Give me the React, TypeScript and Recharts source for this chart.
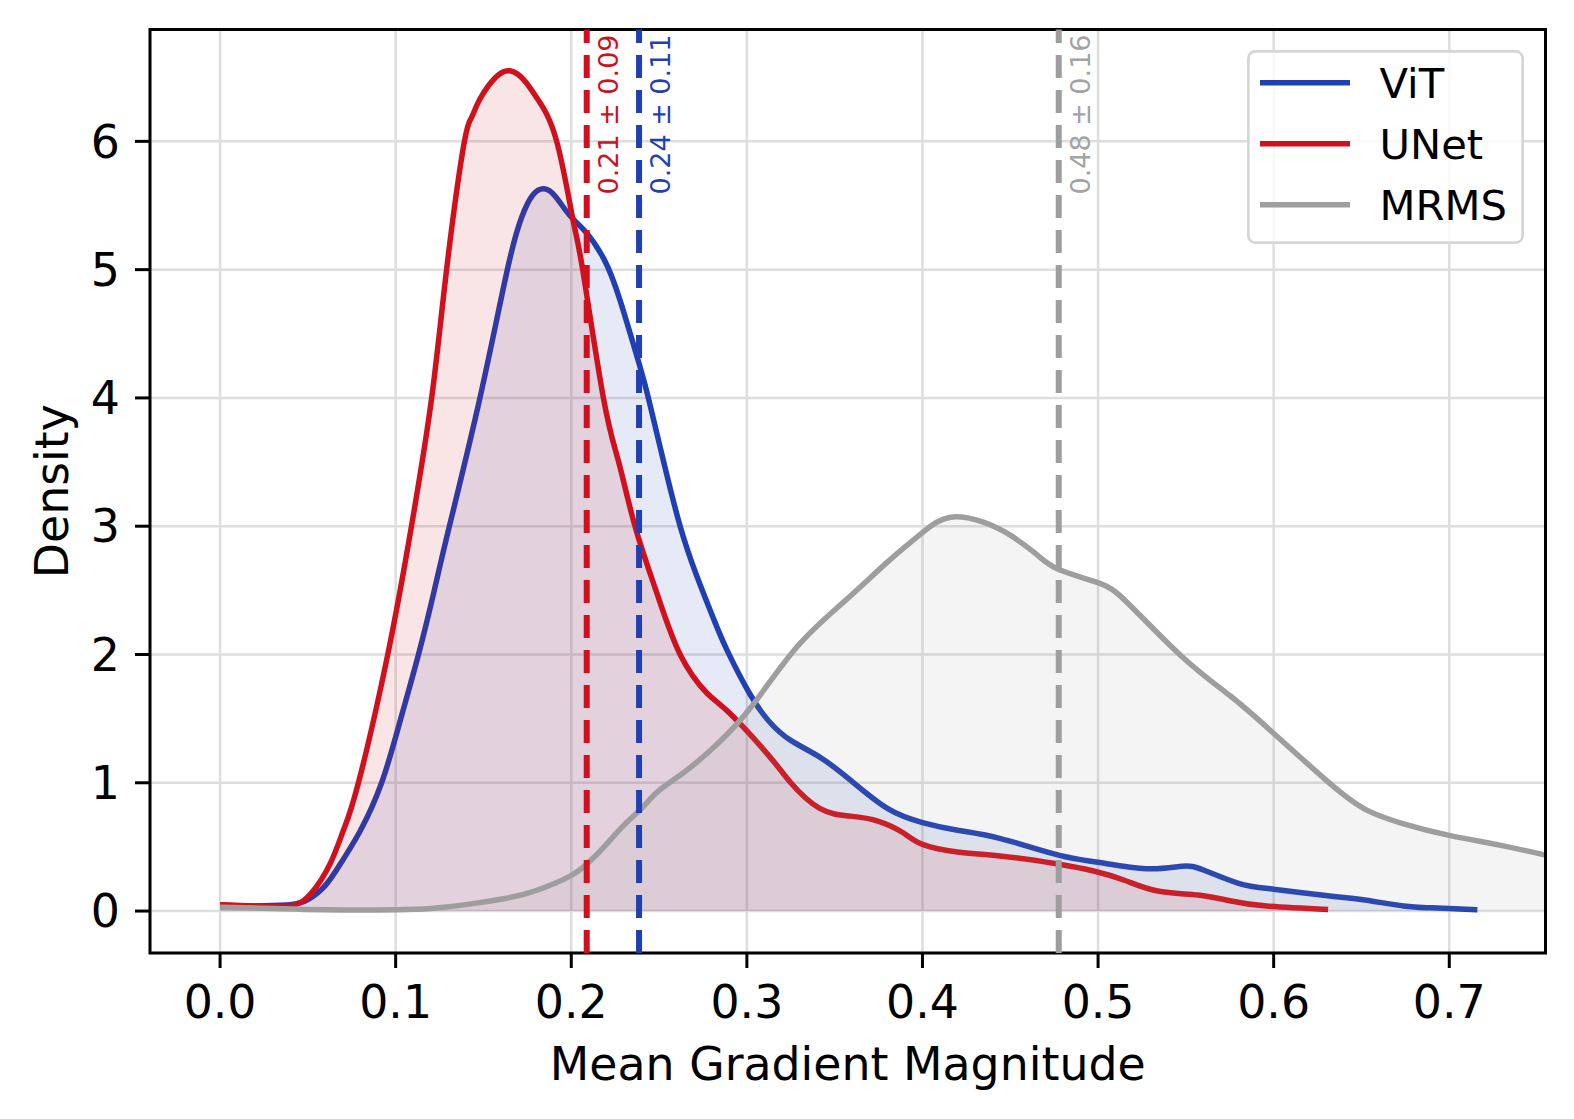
import React from "react";
import {
  Area,
  CartesianGrid,
  ComposedChart,
  Legend,
  ReferenceArea,
  ReferenceLine,
  XAxis,
  YAxis,
} from "recharts";

// KDE curves (x = gradient magnitude, y = density)
const vitGrid = [
  0, 0.02, 0.04, 0.05, 0.06, 0.07, 0.08, 0.092, 0.1025, 0.113, 0.122, 0.1306,
  0.148, 0.1636, 0.1718, 0.178, 0.1845, 0.191, 0.1993, 0.2085, 0.2187, 0.2278, 0.2392,
  0.2439, 0.253, 0.262, 0.271, 0.281, 0.2885, 0.3018, 0.3132, 0.325, 0.3415, 0.359,
  0.38, 0.4, 0.42, 0.444, 0.4776, 0.5, 0.5276, 0.548, 0.56, 0.58, 0.6, 0.632, 0.65,
  0.674, 0.69, 0.716,
];
const vitDensity = [
  0.03, 0.04, 0.05, 0.09, 0.2, 0.4, 0.63, 1.0, 1.48, 2.0, 2.5, 3.0, 4.0, 5.0, 5.41,
  5.58, 5.63, 5.57, 5.42, 5.29, 5.08, 4.76, 4.24, 4.0, 3.48, 3.0, 2.63, 2.28, 2.04, 1.69,
  1.47, 1.33, 1.2, 1.02, 0.8, 0.69, 0.63, 0.567, 0.436, 0.38, 0.33, 0.35, 0.32, 0.216,
  0.17, 0.117, 0.09, 0.039, 0.025, 0.01,
];

const unetGrid = [
  0, 0.02, 0.04, 0.052, 0.0627, 0.07, 0.0788, 0.0955, 0.109, 0.1205, 0.129, 0.1385,
  0.143, 0.148, 0.157, 0.165, 0.173, 0.1813, 0.1917, 0.2008, 0.2065, 0.2183, 0.227,
  0.2363, 0.2487, 0.262, 0.2772, 0.2904, 0.3132, 0.325, 0.3415, 0.359, 0.375, 0.389,
  0.4, 0.42, 0.444, 0.4755, 0.498, 0.515, 0.534, 0.557, 0.575, 0.596, 0.631,
];
const unetDensity = [
  0.05, 0.04, 0.04, 0.14, 0.37, 0.62, 1.0, 2.0, 3.0, 4.0, 5.0, 5.95, 6.18, 6.33, 6.5,
  6.55, 6.48, 6.32, 6.0, 5.4, 5.0, 4.0, 3.5, 3.0, 2.48, 2.0, 1.7, 1.54, 1.2, 1.0, 0.8,
  0.74, 0.7, 0.61, 0.52, 0.46, 0.43, 0.37, 0.31, 0.24, 0.156, 0.125, 0.08, 0.039, 0.013,
];

const mrmsGrid = [
  0, 0.03, 0.06, 0.1, 0.12, 0.14, 0.163, 0.18, 0.199, 0.21, 0.22, 0.23, 0.24, 0.25,
  0.265, 0.283, 0.303, 0.3286, 0.356, 0.38, 0.4, 0.416, 0.435, 0.45, 0.465, 0.478, 0.5,
  0.517, 0.548, 0.575, 0.598, 0.632, 0.653, 0.674, 0.7, 0.73, 0.76,
];
const mrmsDensity = [
  0.03, 0.02, 0.01, 0.01, 0.02, 0.05, 0.1, 0.16, 0.27, 0.38, 0.52, 0.67, 0.8, 0.94,
  1.09, 1.3, 1.6, 2.06, 2.42, 2.72, 2.95, 3.07, 3.03, 2.93, 2.78, 2.66, 2.56, 2.4,
  1.98, 1.68, 1.41, 0.995, 0.787, 0.68, 0.59, 0.51, 0.42,
];

const seriesNames = ["ViT", "UNet", "MRMS"];
const seriesColors = ["#1f3fb2", "#d0111d", "#9e9e9e"];
const labelColors = ["#1f3fb2", "#d0111d", "#a3a3a3"];
const meanValues = [0.2386, 0.2088, 0.4776];
const meanLabels = ["0.24 ± 0.11", "0.21 ± 0.09", "0.48 ± 0.16"];

const xTicks = [0, 0.1, 0.2, 0.3, 0.4, 0.5, 0.6, 0.7];
const yTicks = [0, 1, 2, 3, 4, 5, 6];
const X_DOMAIN: [number, number] = [-0.0399, 0.7548];
const Y_DOMAIN: [number, number] = [-0.327, 6.872];

const FONT = "DejaVu Sans";

const toPoints = (grid: number[], density: number[]) =>
  grid.map((x, i) => ({ x, y: density[i] }));

const seriesData = [
  toPoints(vitGrid, vitDensity),
  toPoints(unetGrid, unetDensity),
  toPoints(mrmsGrid, mrmsDensity),
];

function MeanLabel(props: any) {
  const { viewBox, text, color } = props;
  const x = (viewBox?.x ?? 0) + 31;
  const y = (viewBox?.y ?? 29.5) + 5;
  return (
    <text
      x={x}
      y={y}
      transform={`rotate(-90 ${x} ${y})`}
      textAnchor="end"
      fill={color}
      fontSize={27}
      fontFamily={FONT}
    >
      {text}
    </text>
  );
}

function LegendBox() {
  return (
    <svg width={277} height={194} style={{ display: "block" }}>
      <rect
        x={1.35}
        y={1.35}
        width={274.3}
        height={191.3}
        rx={7}
        fill="rgba(255,255,255,0.8)"
        stroke="#d6d6d6"
        strokeWidth={2.7}
      />
      {seriesNames.map((name, i) => (
        <g key={name}>
          <line
            x1={13}
            x2={103}
            y1={32.7 + i * 61}
            y2={32.7 + i * 61}
            stroke={seriesColors[i]}
            strokeWidth={5.5}
          />
          <text x={132.5} y={48.3 + i * 61} fontSize={41.7} fontFamily={FONT} fill="#000">
            {name}
          </text>
        </g>
      ))}
    </svg>
  );
}

export default function App() {
  return (
    <div
      style={{
        position: "absolute",
        left: 0,
        top: 0,
        width: 1574,
        height: 1119,
        background: "#fff",
        fontFamily: FONT,
      }}
    >
      <ComposedChart
        width={1574}
        height={1119}
        margin={{ top: 29.5, right: 28.5, bottom: 36, left: 70 }}
      >
        <CartesianGrid stroke="#dedede" strokeWidth={2.5} />
        <XAxis
          dataKey="x"
          type="number"
          domain={X_DOMAIN}
          ticks={xTicks}
          allowDataOverflow
          height={130}
          axisLine={false}
          tickSize={15}
          tickMargin={17}
          tickLine={{ stroke: "#000", strokeWidth: 3 }}
          tick={{ fill: "#000", fontSize: 45.8, fontFamily: FONT }}
          tickFormatter={(v) => Number(v).toFixed(1)}
          label={(p: any) => (
            <text
              x={p.viewBox.x + p.viewBox.width / 2}
              y={p.viewBox.y + 127}
              textAnchor="middle"
              fontSize={45.8}
              fontFamily={FONT}
              fill="#000"
            >
              Mean Gradient Magnitude
            </text>
          )}
        />
        <YAxis
          type="number"
          domain={Y_DOMAIN}
          ticks={yTicks}
          allowDataOverflow
          width={80}
          axisLine={false}
          tickSize={15}
          tickMargin={15}
          tickLine={{ stroke: "#000", strokeWidth: 3 }}
          tick={{ fill: "#000", fontSize: 45.8, fontFamily: FONT }}
          label={(p: any) => {
            const x = p.viewBox.x - 2;
            const y = p.viewBox.y + p.viewBox.height / 2;
            return (
              <text
                x={x}
                y={y}
                transform={`rotate(-90 ${x} ${y})`}
                textAnchor="middle"
                fontSize={45.8}
                fontFamily={FONT}
                fill="#000"
              >
                Density
              </text>
            );
          }}
        />
        {seriesNames.map((name, i) => (
          <Area
            key={name}
            name={name}
            data={seriesData[i]}
            dataKey="y"
            type="natural"
            baseValue={0}
            stroke={seriesColors[i]}
            strokeWidth={5.5}
            fill={seriesColors[i]}
            fillOpacity={0.11}
            dot={false}
            activeDot={false}
            isAnimationActive={false}
          />
        ))}
        {seriesNames.map((name, i) => (
          <ReferenceLine
            key={`mean-${name}`}
            x={meanValues[i]}
            stroke={seriesColors[i]}
            strokeWidth={6}
            strokeDasharray="23 12"
            label={(p: any) => (
              <MeanLabel viewBox={p.viewBox} text={meanLabels[i]} color={labelColors[i]} />
            )}
          />
        ))}
        <ReferenceArea
          x1={X_DOMAIN[0]}
          x2={X_DOMAIN[1]}
          y1={Y_DOMAIN[0]}
          y2={Y_DOMAIN[1]}
          fill="none"
          fillOpacity={0}
          stroke="#000"
          strokeWidth={3}
          ifOverflow="visible"
        />
        <Legend
          layout="horizontal"
          verticalAlign="middle"
          align="center"
          content={() => <LegendBox />}
          wrapperStyle={{ left: 1247, top: 50, width: 277, height: 194, right: "auto", bottom: "auto" }}
        />
      </ComposedChart>
    </div>
  );
}
